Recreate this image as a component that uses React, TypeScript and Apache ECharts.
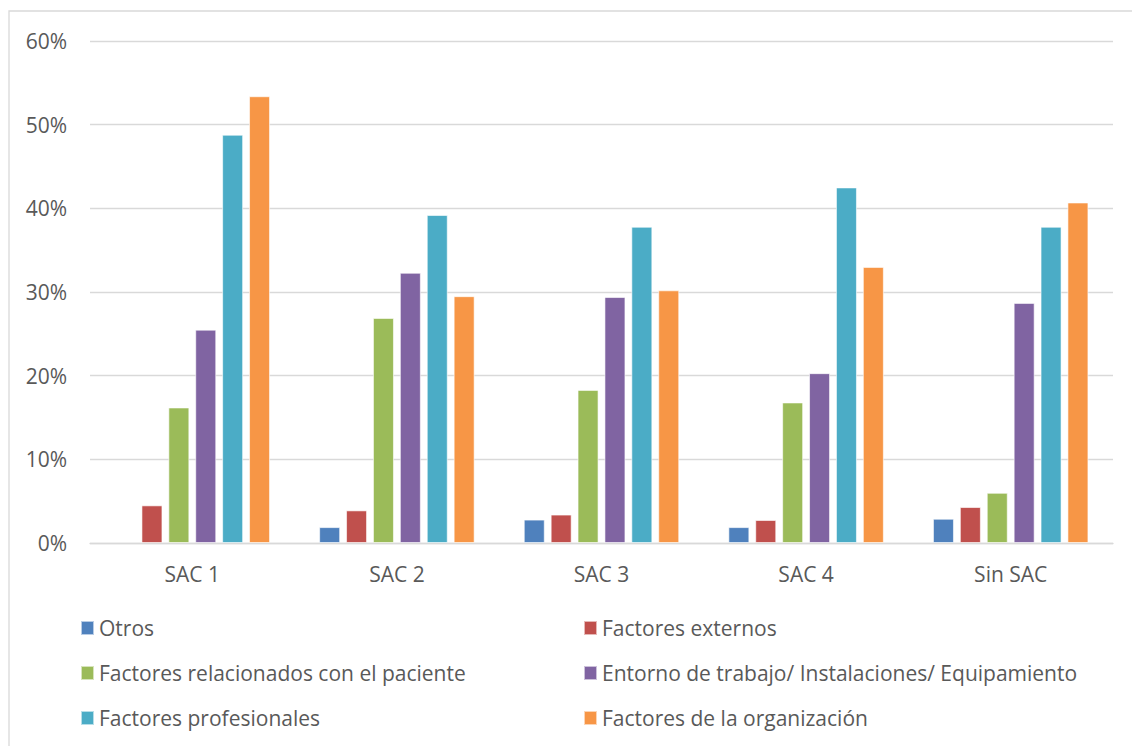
import React, { useEffect, useRef } from "react";
import * as echarts from "echarts";

const categories = ["SAC 1", "SAC 2", "SAC 3", "SAC 4", "Sin SAC"];
const seriesNames = [
  "Otros",
  "Factores externos",
  "Factores relacionados con el paciente",
  "Entorno de trabajo/ Instalaciones/ Equipamiento",
  "Factores profesionales",
  "Factores de la organización",
];
const otros = [null, 1.9, 2.8, 1.9, 2.9];
const externos = [4.5, 3.9, 3.4, 2.75, 4.3];
const paciente = [16.2, 26.9, 18.3, 16.8, 6.0];
const entorno = [25.5, 32.3, 29.4, 20.3, 28.7];
const profesionales = [48.8, 39.2, 37.8, 42.5, 37.8];
const organizacion = [53.4, 29.5, 30.2, 33.0, 40.7];
const colors = ["#4F81BD", "#C0504D", "#9BBB59", "#8064A2", "#4BACC6", "#F79646"];
const yTicks = [0, 10, 20, 30, 40, 50, 60];

const FONT = "'Open Sans', sans-serif";
const TEXT_COLOR = "#595959";

export default function App() {
  const ref = useRef<HTMLDivElement>(null);
  useEffect(() => {
    if (!ref.current) return;
    const chart = echarts.init(ref.current, null, { renderer: "svg" });
    const values = [otros, externos, paciente, entorno, profesionales, organizacion];
    const legendCommon = {
      orient: "vertical" as const,
      itemWidth: 13,
      itemHeight: 14,
      itemGap: 21,
      icon: "rect",
      textStyle: { fontFamily: FONT, fontSize: 21, color: TEXT_COLOR, lineHeight: 24 },
      padding: 0,
    };
    chart.setOption({
      animation: false,
      backgroundColor: "#ffffff",
      color: colors,
      graphic: [
        {
          type: "rect",
          shape: { x: 9, y: 11, width: 1130, height: 745 },
          style: { fill: "none", stroke: "#d9d9d9", lineWidth: 1.3 },
          silent: true,
        },
      ],
      legend: [
        { ...legendCommon, left: 80, top: 616, data: [seriesNames[0], seriesNames[2], seriesNames[4]] },
        { ...legendCommon, left: 583, top: 616, data: [seriesNames[1], seriesNames[3], seriesNames[5]] },
      ],
      grid: { left: 90, right: 19, top: 41, bottom: 203, containLabel: false },
      xAxis: {
        type: "category",
        data: categories,
        axisTick: { show: false },
        axisLine: { lineStyle: { color: "#d9d9d9", width: 1.3 } },
        axisLabel: { fontFamily: FONT, fontSize: 21, color: TEXT_COLOR, margin: 20 },
      },
      yAxis: {
        type: "value",
        min: yTicks[0],
        max: yTicks[yTicks.length - 1],
        interval: 10,
        axisLine: { show: false },
        axisTick: { show: false },
        splitLine: { lineStyle: { color: "#d9d9d9", width: 1.3 } },
        axisLabel: { fontFamily: FONT, fontSize: 21, color: TEXT_COLOR, margin: 23, formatter: "{value}%" },
      },
      series: seriesNames.map((name, i) => ({
        name,
        type: "bar",
        data: values[i],
        barGap: "28%",
        barCategoryGap: "24%",
        itemStyle: { color: colors[i], borderColor: "rgba(255,255,255,0.6)", borderWidth: 1 },
      })),
    });
    return () => chart.dispose();
  }, []);
  return (
    <div
      ref={ref}
      style={{ position: "absolute", left: 0, top: 0, width: 1132, height: 746 }}
    />
  );
}
